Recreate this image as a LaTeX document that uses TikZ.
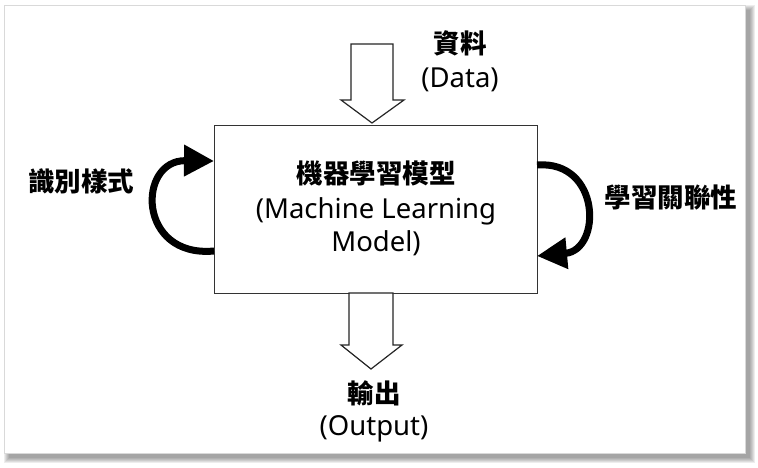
\documentclass[tikz,border=0pt]{standalone}
\usepackage{fontspec}
\setmainfont{Noto Sans}
\newfontfamily\cjk{Noto Sans CJK TC}
\usetikzlibrary{arrows.meta}
\begin{document}
\begin{tikzpicture}[x=1pt,y=-1pt,
  latin/.style={font=\fontsize{27.5}{30}\selectfont, text=black},
  cjklabel/.style={font=\fontsize{26.5}{30}\selectfont\cjk\bfseries, text=black},
  blockarrow/.style={draw=black!85, line width=1.2pt, fill=white, line join=miter},
  looparrow/.style={draw=black, line width=7pt, -{Triangle[length=30pt,width=30pt]}},
  mainbox/.style={draw=black!80, line width=1.3pt, fill=white, minimum width=323pt, minimum height=168pt, anchor=north west, inner sep=0pt}]
\useasboundingbox (0,0) rectangle (758,468);
% frame with shadow
\foreach \b in {5,4,3,2,1,0}{
  \fill[black, opacity=0.07] (9-\b,10-\b) rectangle (750+\b,458+\b);
}
\fill[white] (4,5) rectangle (745,453);
\draw[black!15, line width=0.6pt] (4,5) rectangle (745,453);
% main box
\node[mainbox] (box) at (214,125) {};
\node[align=center, inner sep=0pt, font=\fontsize{27.5}{33}\selectfont, text=black] (title) at (376,208) {%
  {\fontsize{26.5}{30}\selectfont\cjk\bfseries 機器學習模型}\\[2pt](Machine Learning\\Model)};
% input block arrow
\draw[blockarrow] (351,44) -- (393,44) -- (393,100) -- (404,100) -- (372,123)
  -- (341,100) -- (351,100) -- cycle;
% output block arrow
\draw[blockarrow] (349,293) -- (393,293) -- (393,345) -- (402,345) -- (371,369)
  -- (341,345) -- (349,345) -- cycle;
% labels
\node[cjklabel] (ldata1) at (460,43) {資料};
\node[latin] (ldata2) at (460,80) {(Data)};
\node[cjklabel] (lout1) at (374,393) {輸出};
\node[latin] (lout2) at (374,429) {(Output)};
\node[cjklabel] (lpat) at (81,181) {識別樣式};
\node[cjklabel] (lrel) at (671,197) {學習關聯性};
% loop arrows
\coordinate (la) at (214,251);
\coordinate (lb) at (214,161);
\coordinate (ra) at (537,165);
\coordinate (rb) at (537,256);
\draw[looparrow] (la) .. controls (137,258) and (137,160) .. (lb);
\draw[looparrow] (ra) .. controls (601,160) and (602,250) .. (rb);
\end{tikzpicture}
\end{document}
